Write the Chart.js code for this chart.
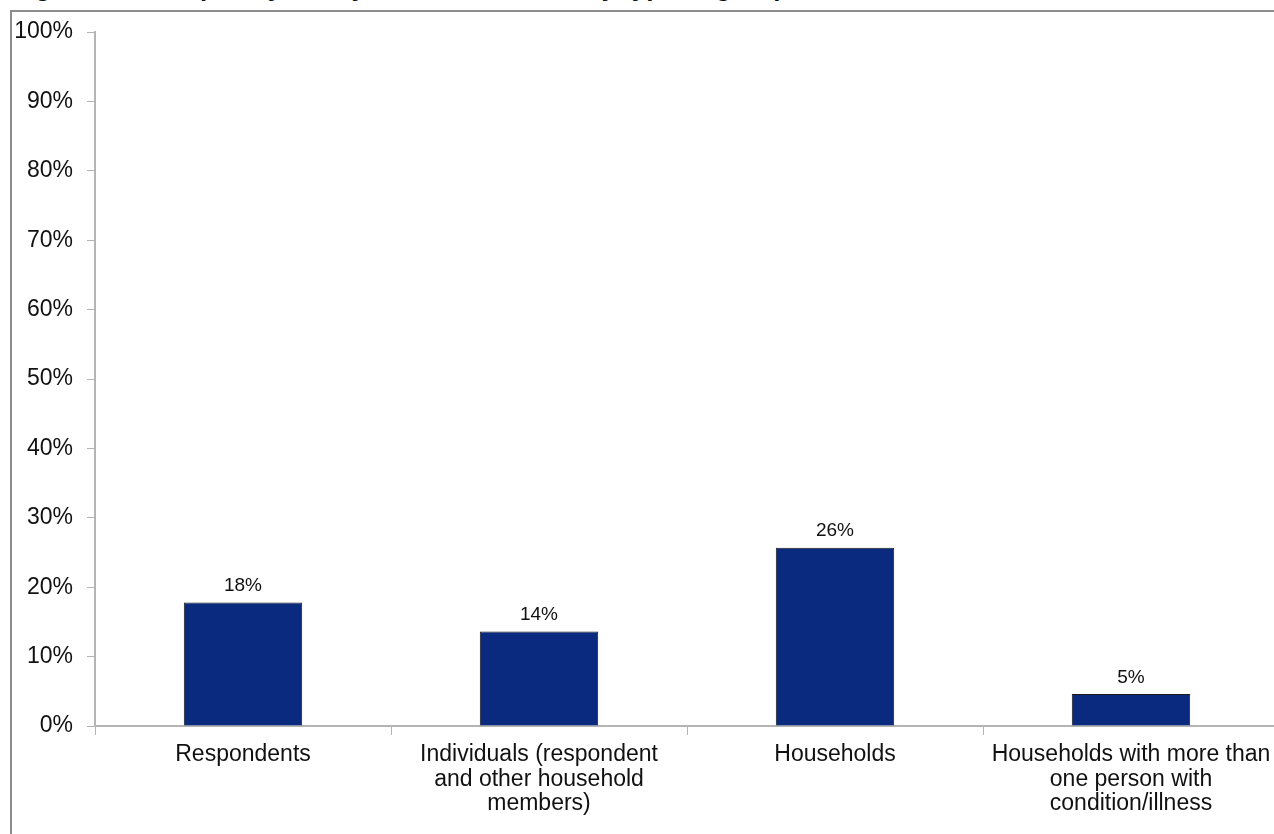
<!DOCTYPE html>
<html>
<head>
<meta charset="utf-8">
<title>Condition/illness by unit</title>
<script src="https://cdn.jsdelivr.net/npm/chart.js@4.4.1/dist/chart.umd.min.js"></script>
<style>
  html, body { margin: 0; padding: 0; background: #fff; overflow: hidden; width: 1274px; height: 834px; }
  #title {
    position: absolute; left: 12px; top: -26px; white-space: nowrap;
    font: bold 26px "Liberation Sans", Arial, sans-serif; line-height: 26px; color: #111;
  }
  #frame {
    position: absolute; left: 10px; top: 10px; width: 1320px; height: 900px;
    border: 2px solid #8c8c8c; box-sizing: border-box;
  }
  #wrap { position: absolute; left: 0; top: 0; width: 1300px; height: 834px; }
</style>
</head>
<body>
<div id="title">Figure 3.1: Frequency of any condition/illness by type of group</div>
<div id="frame"></div>
<div id="wrap"><canvas id="chart"></canvas></div>
<script>
// categories and values (percent)
const categories = [
  ['Respondents'],
  ['Individuals (respondent', 'and other household', 'members)'],
  ['Households'],
  ['Households with more than', 'one person with', 'condition/illness']
];
const values = [17.8, 13.6, 25.7, 4.6];
const yTicks = [0, 10, 20, 30, 40, 50, 60, 70, 80, 90, 100];

const FONT = '"Liberation Sans", Arial, sans-serif';
const axisGray = '#b4b4b4';

// value labels above each bar
const barLabels = {
  id: 'barLabels',
  afterDatasetsDraw(chart) {
    const ctx = chart.ctx;
    const meta = chart.getDatasetMeta(0);
    ctx.save();
    ctx.font = '19px ' + FONT;
    ctx.fillStyle = '#111';
    ctx.textAlign = 'center';
    ctx.textBaseline = 'bottom';
    meta.data.forEach((bar, i) => {
      ctx.fillText(Math.round(values[i]) + '%', bar.x, bar.y - 7);
    });
    ctx.restore();
  }
};

new Chart(document.getElementById('chart'), {
  type: 'bar',
  data: {
    labels: categories,
    datasets: [{
      data: values,
      backgroundColor: '#0a2a80',
      borderColor: '#1a1a1a',
      borderWidth: 1,
      categoryPercentage: 1,
      barPercentage: 0.4
    }]
  },
  options: {
    responsive: true,
    maintainAspectRatio: false,
    animation: false,
    layout: { padding: { left: 0, right: 21, top: 32, bottom: 0 } },
    plugins: { legend: { display: false }, tooltip: { enabled: false } },
    scales: {
      x: {
        grid: { drawOnChartArea: false, offset: true, color: axisGray, tickLength: 9 },
        border: { color: axisGray, width: 2 },
        ticks: {
          color: '#111', maxRotation: 0, autoSkip: false, padding: 8,
          font: { family: FONT, size: 23, lineHeight: 1.05 }
        },
        afterFit(scale) { scale.height = 108; }
      },
      y: {
        min: 0, max: 100,
        afterBuildTicks(scale) { scale.ticks = yTicks.map(v => ({ value: v })); },
        grid: { drawOnChartArea: false, color: axisGray, tickLength: 8 },
        border: { color: axisGray, width: 2 },
        ticks: {
          color: '#111', padding: 14,
          font: { family: FONT, size: 23 },
          callback: v => v + '%'
        },
        afterFit(scale) { scale.width = 95; }
      }
    }
  },
  plugins: [barLabels]
});
</script>
</body>
</html>
